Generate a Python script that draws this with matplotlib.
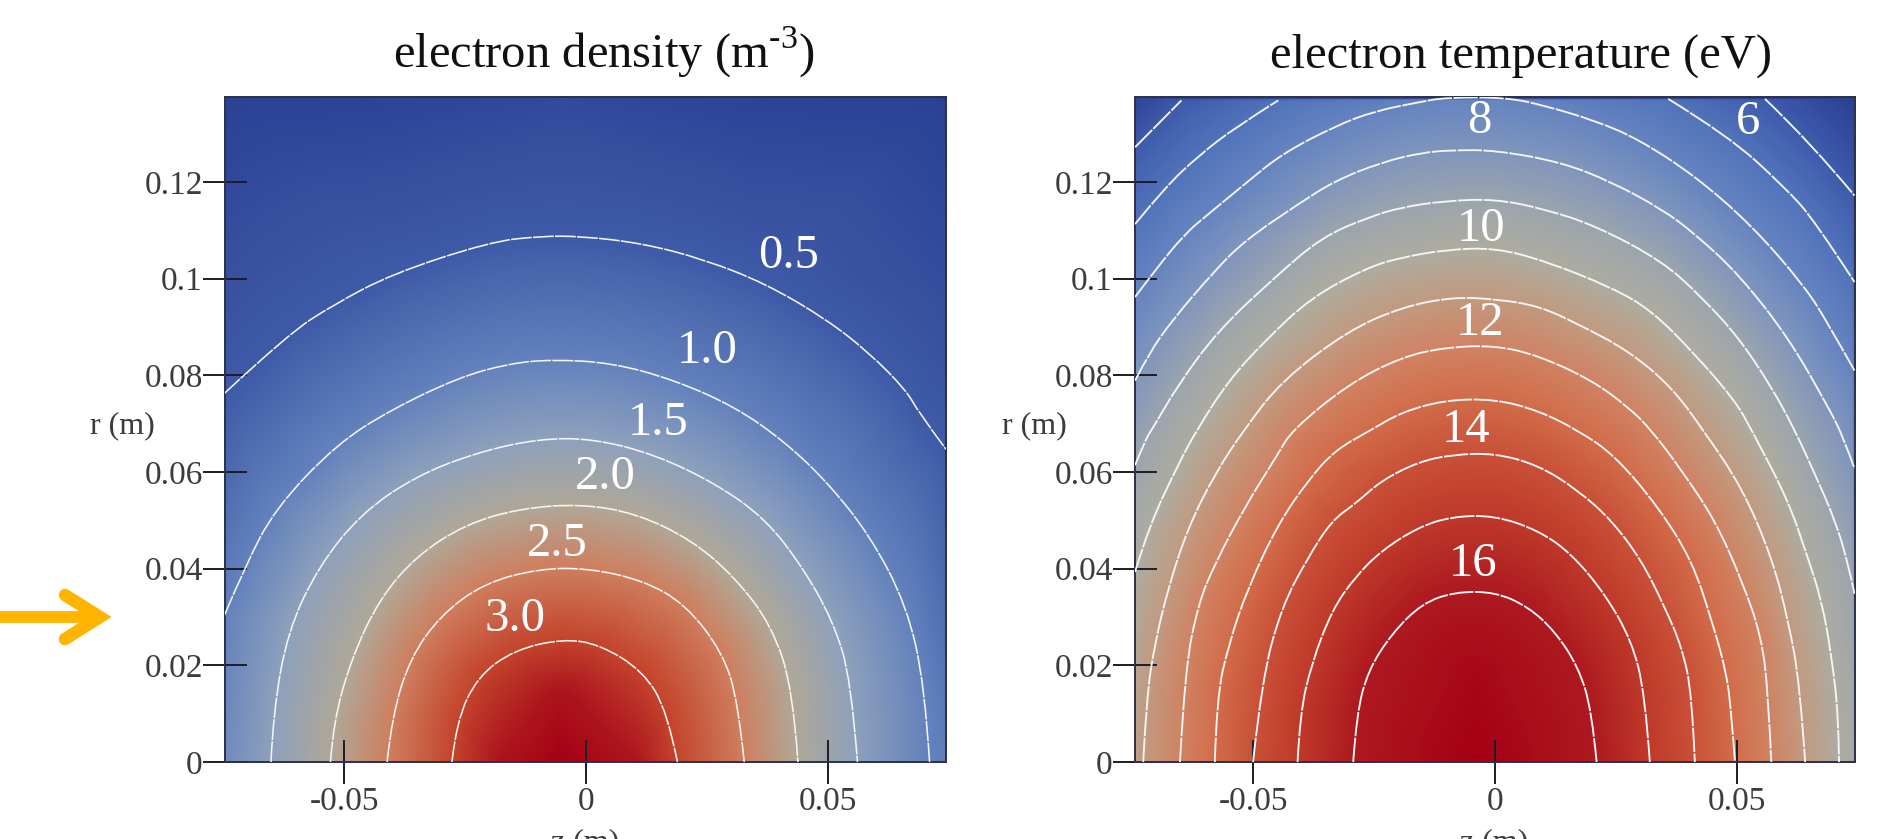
import numpy as np
import matplotlib
matplotlib.use('Agg')
import matplotlib.pyplot as plt
import matplotlib.tri as mtri
from matplotlib.colors import LinearSegmentedColormap, Normalize
from matplotlib.lines import Line2D
from matplotlib.patches import PathPatch
from matplotlib.path import Path

plt.rcParams['font.family'] = ['Liberation Serif', 'DejaVu Serif']
plt.rcParams['mathtext.fontset'] = 'custom'
plt.rcParams['mathtext.rm'] = 'Liberation Serif'

# electron density contours, (z, r) in metres
ne_05 = [(-.0747, .0763), (-.0616, .0885), (-.0522, .0946), (-.0401, .101), (-.0199, .1076), (-.0097, .1088),
         (-.0009, .1088), (.0118, .1073), (.0244, .104), (.0371, .099), (.0497, .0916), (.0586, .0846),
         (.0662, .0769), (.0687, .0724), (.0744, .0647)]
ne_10 = [(-.0747, .0304), (-.0705, .0404), (-.0642, .0525), (-.0515, .0658), (-.0401, .073), (-.0262, .0796),
         (-.0161, .0824), (-.0072, .0833), (.0054, .0826), (.0181, .0791), (.0308, .0735), (.0409, .0664),
         (.0497, .0581), (.0586, .047), (.0662, .0326), (.07, .016), (.071, 0)]
ne_15 = [(-.0651, 0), (-.0646, .0105), (-.0616, .0271), (-.0553, .0404), (-.0465, .0514), (-.0351, .0592),
         (-.0224, .0641), (-.0097, .0669), (.0016, .0669), (.0143, .0636), (.027, .0575), (.0371, .0503),
         (.0447, .0404), (.051, .0293), (.0548, .0171), (.0561, 0)]
ne_20 = [(-.0528, 0), (-.0522, .0083), (-.0484, .0216), (-.0427, .0337), (-.0351, .0426), (-.0249, .0492),
         (-.0135, .0525), (-.0009, .0534), (.0105, .0514), (.0219, .0459), (.0308, .0382), (.0384, .0282),
         (.0428, .0149), (.0438, 0)]
ne_25 = [(-.0411, 0), (-.0401, .0094), (-.0363, .0216), (-.03, .0304), (-.0211, .037), (-.0097, .04),
         (.0004, .0401), (.0118, .0376), (.0206, .0326), (.0282, .0227), (.0314, .0127), (.0327, 0)]
ne_30 = [(-.0277, 0), (-.0268, .0083), (-.0224, .0177), (-.0148, .0232), (-.0047, .0255), (.0029, .0243),
         (.0118, .0188), (.0168, .0105), (.0189, 0)]
ne_levels = [0.5, 1.0, 1.5, 2.0, 2.5, 3.0]
ne_lines = [ne_05, ne_10, ne_15, ne_20, ne_25, ne_30]
# field values away from the contours (z, r, value)
ne_extra = [(-.0746, .1376, .05), (.0744, .1376, .05), (-.005, .1376, .2), (-.04, .1376, .1), (.03, .1376, .1),
            (-.0746, 0, 1.15), (.0744, 0, .96), (.0744, .1, .25), (-.005, 0, 3.6), (-.005, .0125, 3.35),
            (-.018, 0, 3.3), (.01, 0, 3.3)]

# electron temperature contours
te_6a = [(-.0744, .1272), (-.0648, .1369)]
te_6b = [(.0558, .1372), (.0655, .1279), (.0743, .1172)]
te_7a = [(-.0744, .1113), (-.0682, .1189), (-.0613, .1254), (-.0537, .1313), (-.0448, .1369)]
te_7b = [(.0358, .1372), (.0482, .1296), (.0599, .1189), (.0661, .112), (.0743, .0993)]
te_8 = [(-.0744, .0962), (-.0703, .1017), (-.0641, .1093), (-.0592, .1134), (-.0517, .1196), (-.0441, .1258),
        (-.033, .1316), (-.0248, .1347), (-.0158, .1365), (-.0103, .1375), (.0025, .1375), (.0103, .1358),
        (.0207, .1327), (.0296, .1289), (.0413, .1213), (.0531, .1110), (.0641, .0983), (.0689, .0906), (.0743, .0810)]
te_9 = [(-.0744, .0789), (-.0716, .0844), (-.0668, .0913), (-.0579, .1017), (-.0517, .1079), (-.0406, .1155),
        (-.033, .1203), (-.0234, .1241), (-.0151, .1261), (-.0089, .1266), (0, .1266), (.0138, .1241),
        (.0241, .12), (.0345, .1144), (.0413, .1093), (.0503, .101), (.0606, .0879), (.0689, .0734), (.072, .0672),
        (.0743, .0607)]
te_10 = [(-.0744, .0614), (-.072, .0672), (-.071, .0686), (-.0654, .0782), (-.0572, .0893), (-.0455, .1003),
         (-.0358, .1086), (-.0262, .1127), (-.0193, .1148), (-.0103, .1161), (0, .1165), (.0103, .1144),
         (.0207, .1110), (.0345, .1037), (.0427, .0962), (.0503, .0879), (.0572, .0775), (.062, .0686),
         (.0661, .0596), (.0703, .05), (.073, .041), (.0743, .0348)]
te_11 = [(-.0744, .0393), (-.0716, .0486), (-.0654, .0617), (-.0617, .0686), (-.0551, .0789), (-.0475, .0872),
         (-.0379, .0962), (-.0262, .1024), (-.0193, .1044), (-.0103, .106), (0, .1064), (.0103, .1037),
         (.0241, .0982), (.0324, .0934), (.0413, .0844), (.0496, .0748), (.0531, .0686), (.0606, .0541),
         (.0644, .043), (.0675, .0335), (.0696, .0217), (.071, .0093), (.0711, 0)]
te_12 = [(-.0727, 0), (-.072, .0135), (-.0703, .0245), (-.0675, .0362), (-.0634, .0486), (-.0579, .0596),
         (-.052, .0686), (-.0441, .0789), (-.0303, .0893), (-.0193, .0941), (-.0089, .0962), (0, .0958),
         (.009, .0944), (.0172, .0906), (.0276, .0851), (.0365, .0776), (.0431, .0686), (.051, .0569),
         (.0572, .0424), (.0606, .0293), (.063, .0162), (.0641, 0)]
te_13 = [(-.0651, 0), (-.0641, .019), (-.0613, .0328), (-.0579, .0410), (-.0517, .0528), (-.0448, .0638),
         (-.042, .0686), (-.0303, .0782), (-.0193, .0838), (-.0103, .0858), (0, .0862), (.009, .0841),
         (.02, .079), (.0276, .0734), (.0324, .0686), (.0386, .0603), (.0455, .05), (.051, .0376), (.0551, .0259),
         (.0565, .0135), (.0571, 0)]
te_14 = [(-.0579, 0), (-.0575, .0135), (-.055, .0245), (-.051, .0362), (-.0448, .0493), (-.0386, .0583),
         (-.0331, .0645), (-.0258, .0686), (-.0193, .0724), (-.0103, .0749), (0, .0751), (.009, .0727),
         (.0172, .0686), (.0248, .0634), (.0338, .0527), (.0407, .0417), (.0448, .0293), (.0479, .0183),
         (.0489, .0093), (.0496, 0)]
te_15 = [(-.05, 0), (-.0482, .0169), (-.0441, .0321), (-.0386, .0424), (-.0337, .0500), (-.0289, .0534),
         (-.0234, .0583), (-.0158, .0621), (-.0089, .0636), (0, .0639), (.009, .0614), (.0172, .0562),
         (.0241, .05), (.0303, .0417), (.0351, .032), (.0386, .0238), (.0407, .0142), (.0413, 0)]
te_16 = [(-.0408, 0), (-.0403, .01), (-.0379, .0204), (-.0337, .0314), (-.0289, .0383), (-.0234, .0438),
         (-.0158, .0486), (-.0089, .0508), (0, .051), (.009, .0479), (.0158, .0431), (.0227, .0348),
         (.0282, .0252), (.031, .0142), (.032, 0)]
te_17 = [(-.0293, 0), (-.0286, .01), (-.0262, .0190), (-.0213, .0266), (-.0151, .0328), (-.0083, .0352),
         (0, .0352), (.0069, .0321), (.0124, .027), (.0172, .0197), (.02, .0107), (.021, 0)]
te_levels = [6, 6, 7, 7, 8, 9, 10, 11, 12, 13, 14, 15, 16, 17]
te_lines = [te_6a, te_6b, te_7a, te_7b, te_8, te_9, te_10, te_11, te_12, te_13, te_14, te_15, te_16, te_17]
te_extra = [(-.0746, .1376, 5.0), (.0744, .1376, 4.8), (-.0746, 0, 11.7), (.0744, 0, 10.7),
            (-.004, 0, 18.0), (-.004, .018, 17.7)]

# colour stops
ne_stops = [0, 0.5, 1.0, 1.5, 2.0, 2.5, 3.0, 3.3, 3.6]
ne_colors = ['#2a3f93', '#3f5ba8', '#6482bd', '#8ea1bc', '#b0a898', '#cf7f5f', '#c4452d', '#ad151d', '#a50015']
te_stops = [4.8, 6, 7, 8, 9, 10, 11, 12, 13, 14, 15, 16, 17, 18]
te_colors = ['#2b3f94', '#3f5cad', '#5274bb', '#6684c0', '#8096bd', '#9ca5ae', '#aeaca0', '#c29a80',
             '#d08363', '#d26c4a', '#c95138', '#bf3a2a', '#ae1a20', '#a50015']

ne_labels = ['0.5', '1.0', '1.5', '2.0', '2.5', '3.0']
ne_label_z = [.0418, .0251, .0149, .0039, -.0059, -.0146]
ne_label_r = [.1046, .0851, .0701, .0589, .0452, .0296]
te_labels = ['6', '8', '10', '12', '14', '16']
te_label_z = [.0522, -.0032, -.0028, -.0032, -.0059, -.0046]
te_label_r = [.1324, .1327, .1103, .0908, .0687, .0410]

r_ticks = [0, 0.02, 0.04, 0.06, 0.08, 0.1, 0.12]
r_ticklabels = ['0', '0.02', '0.04', '0.06', '0.08', '0.1', '0.12']
z_ticks = [-0.05, 0, 0.05]
z_ticklabels = ['-0.05', '0', '0.05']


def curve(pts):
    # quadratic segments with the read points as control points
    verts = [pts[0]]
    codes = [Path.MOVETO]
    for i in range(1, len(pts) - 1):
        end = pts[i + 1] if i == len(pts) - 2 else ((pts[i][0] + pts[i + 1][0]) / 2, (pts[i][1] + pts[i + 1][1]) / 2)
        verts += [pts[i], end]
        codes += [Path.CURVE3, Path.CURVE3]
    if len(pts) == 2:
        verts.append(pts[1])
        codes.append(Path.LINETO)
    return Path(verts, codes)


def panel(ax, lines, levels, extra, stops, colors, labels, label_z, label_r, xlim, ylim, lw):
    z, r, v = [], [], []
    for pts, lev in zip(lines, levels):
        for p in pts:
            z.append(p[0]); r.append(p[1]); v.append(lev)
    for p in extra:
        z.append(p[0]); r.append(p[1]); v.append(p[2])
    tri = mtri.Triangulation(np.array(z), np.array(r))
    interp = mtri.LinearTriInterpolator(tri, np.array(v, dtype=float))
    gz, gr = np.meshgrid(np.linspace(xlim[0], xlim[1], 360), np.linspace(ylim[0], ylim[1], 330))
    field = interp(gz, gr)

    vmin, vmax = stops[0], stops[-1]
    pos = [(s - vmin) / (vmax - vmin) for s in stops]
    cmap = LinearSegmentedColormap.from_list('field', list(zip(pos, colors)))
    ax.imshow(field, origin='lower', extent=[xlim[0], xlim[1], ylim[0], ylim[1]], aspect='auto',
              cmap=cmap, norm=Normalize(vmin, vmax), interpolation='bilinear')

    for pts in lines:
        ax.add_patch(PathPatch(curve(pts), fill=False, edgecolor='#f4f5f6', lw=lw, zorder=3,
                               linestyle=(0, (13, 0.8))))
    for t, x, y in zip(labels, label_z, label_r):
        ax.text(x, y, t, color='white', fontsize=35, ha='center', va='center', zorder=4)

    ax.set_xlim(xlim)
    ax.set_ylim(ylim)
    ax.set_xticks(z_ticks)
    ax.set_xticklabels(z_ticklabels)
    ax.set_yticks(r_ticks)
    ax.set_yticklabels(r_ticklabels)
    ax.tick_params(direction='inout', length=31, width=1.4, color='#1c1c28', labelcolor='#3c3c3c',
                   labelsize=24, pad=2)
    ax.tick_params(axis='y', pad=0.5)
    for s in ax.spines.values():
        s.set_linewidth(1.4)
        s.set_color('#2c3048')


W, H = 1886, 839
fig = plt.figure(figsize=(W / 100, H / 100), dpi=100)
ax1 = fig.add_axes([225 / W, 1 - 762 / H, 721 / W, 665 / H])
ax2 = fig.add_axes([1135 / W, 1 - 762 / H, 720 / W, 665 / H])

panel(ax1, ne_lines, ne_levels, ne_extra, ne_stops, ne_colors, ne_labels, ne_label_z, ne_label_r,
      (-.0746, .0744), (0, .1376), 1.15)
panel(ax2, te_lines, te_levels, te_extra, te_stops, te_colors, te_labels, te_label_z, te_label_r,
      (-.0744, .0744), (0, .1376), 1.35)

fig.text(604 / W, 1 - 68 / H, r'electron density (m$^{\text{-3}}$)', fontsize=35, ha='center', va='baseline',
         color='#111111')
fig.text(1521 / W, 1 - 68 / H, 'electron temperature (eV)', fontsize=35, ha='center', va='baseline', color='#111111')
for x in (122, 1034):
    fig.text(x / W, 1 - 426 / H, 'r (m)', fontsize=23, ha='center', va='center', color='#3c3c3c')
for x in (585, 1494):
    fig.text(x / W, 1 - 843 / H, 'z (m)', fontsize=23, ha='center', va='center', color='#3c3c3c')

# orange arrow pointing at the density panel
arrow = '#ffb400'
fig.add_artist(Line2D([0, 100 / W], [1 - 617 / H, 1 - 617 / H], color=arrow, lw=8.5, solid_capstyle='butt'))
fig.add_artist(Line2D([65 / W, 100 / W, 65 / W], [1 - 595 / H, 1 - 617 / H, 1 - 639 / H], color=arrow, lw=9,
                      solid_capstyle='round', solid_joinstyle='miter'))

fig.savefig('out.png', dpi=100)
